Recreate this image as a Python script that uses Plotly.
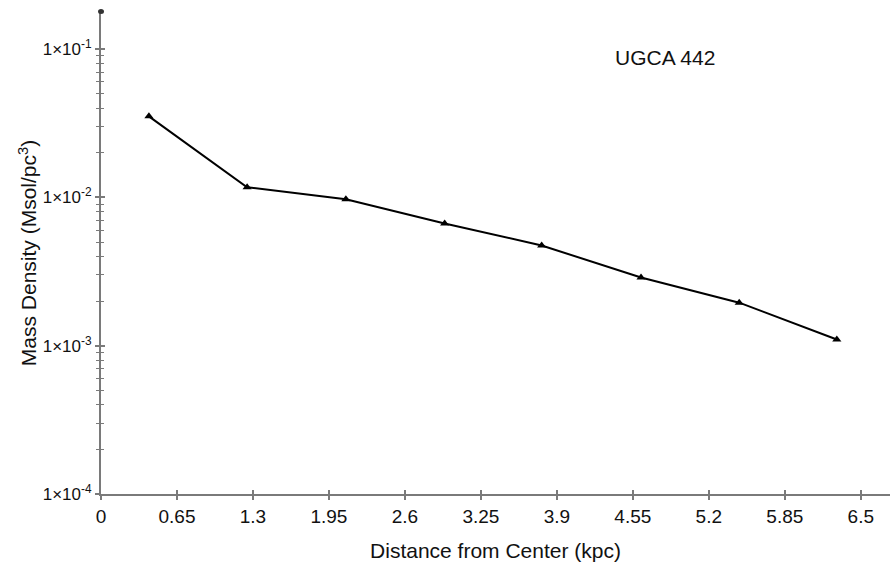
import plotly.graph_objects as go

# Radial mass-density profile of UGCA 442
radius_kpc = [0.41, 1.25, 2.095, 2.94, 3.77, 4.62, 5.46, 6.295]
density = [0.0352, 0.0117, 0.0097, 0.00667, 0.00474, 0.00288, 0.00195, 0.0011]

x_ticks = [0, 0.65, 1.3, 1.95, 2.6, 3.25, 3.9, 4.55, 5.2, 5.85, 6.5]
x_tick_text = ["0", "0.65", "1.3", "1.95", "2.6", "3.25", "3.9", "4.55", "5.2", "5.85", "6.5"]
y_ticks = [1e-4, 1e-3, 1e-2, 1e-1]
y_tick_text = ["1×10<sup>-4</sup>", "1×10<sup>-3</sup>", "1×10<sup>-2</sup>", "1×10<sup>-1</sup>"]

FONT = "Liberation Sans, Arial, sans-serif"
AXIS_COLOR = "#7a7a7a"
X_RANGE = [0, 6.75]
Y_RANGE = [-4, -0.75]

fig = go.Figure()
fig.add_trace(go.Scatter(
    x=radius_kpc, y=density, mode="lines+markers",
    line=dict(color="black", width=2),
    marker=dict(symbol="triangle-up", size=8, color="black"),
    showlegend=False,
))
# invisible trace so the overlay axes (inner half of the crossing ticks) render
fig.add_trace(go.Scatter(x=[radius_kpc[0]], y=[density[0]], xaxis="x2", yaxis="y2",
                         mode="markers", marker=dict(opacity=0), showlegend=False,
                         hoverinfo="skip"))

fig.update_layout(
    width=893, height=570,
    margin=dict(l=101, r=3, t=12, b=76),
    paper_bgcolor="white", plot_bgcolor="white",
    font=dict(family=FONT, size=18, color="#111"),
    xaxis=dict(
        range=X_RANGE, tickvals=x_ticks, ticktext=x_tick_text,
        showgrid=False, zeroline=False,
        showline=True, linecolor=AXIS_COLOR, linewidth=2,
        ticks="outside", ticklen=4, tickwidth=1.5, tickcolor=AXIS_COLOR,
        tickfont=dict(size=19),
        title=dict(text="Distance from Center (kpc)", font=dict(size=21), standoff=18),
    ),
    yaxis=dict(
        type="log", range=Y_RANGE, tickvals=y_ticks, ticktext=y_tick_text,
        showgrid=False, zeroline=False,
        showline=True, linecolor=AXIS_COLOR, linewidth=2,
        ticks="outside", ticklen=4, tickwidth=1.5, tickcolor=AXIS_COLOR,
        minor=dict(ticks="outside", ticklen=3, tickwidth=1.2, tickcolor=AXIS_COLOR,
                   dtick="D1", showgrid=False),
        tickfont=dict(size=17),
        title=dict(text="Mass Density (Msol/pc<sup>3</sup>)", font=dict(size=21), standoff=0),
    ),
    xaxis2=dict(
        overlaying="x", range=X_RANGE, tickvals=x_ticks, showticklabels=False,
        showgrid=False, zeroline=False, showline=False,
        ticks="inside", ticklen=4, tickwidth=1.5, tickcolor=AXIS_COLOR, side="bottom",
    ),
    yaxis2=dict(
        overlaying="y", type="log", range=Y_RANGE, tickvals=y_ticks, showticklabels=False,
        showgrid=False, zeroline=False, showline=False,
        ticks="inside", ticklen=4, tickwidth=1.5, tickcolor=AXIS_COLOR, side="left",
        minor=dict(ticks="inside", ticklen=3, tickwidth=1.2, tickcolor=AXIS_COLOR,
                   dtick="D1", showgrid=False),
    ),
    shapes=[dict(
        type="circle", xref="paper", yref="paper", xsizemode="pixel", ysizemode="pixel",
        xanchor=0, yanchor=1, x0=-3, x1=3, y0=-2, y1=3,
        fillcolor="#333", line=dict(width=0),
    )],
    annotations=[dict(
        text="UGCA 442", x=0.715, y=0.905, xref="paper", yref="paper",
        xanchor="center", yanchor="middle", showarrow=False,
        font=dict(size=21, family=FONT, color="#111"),
    )],
)

fig.write_html("out.html")
